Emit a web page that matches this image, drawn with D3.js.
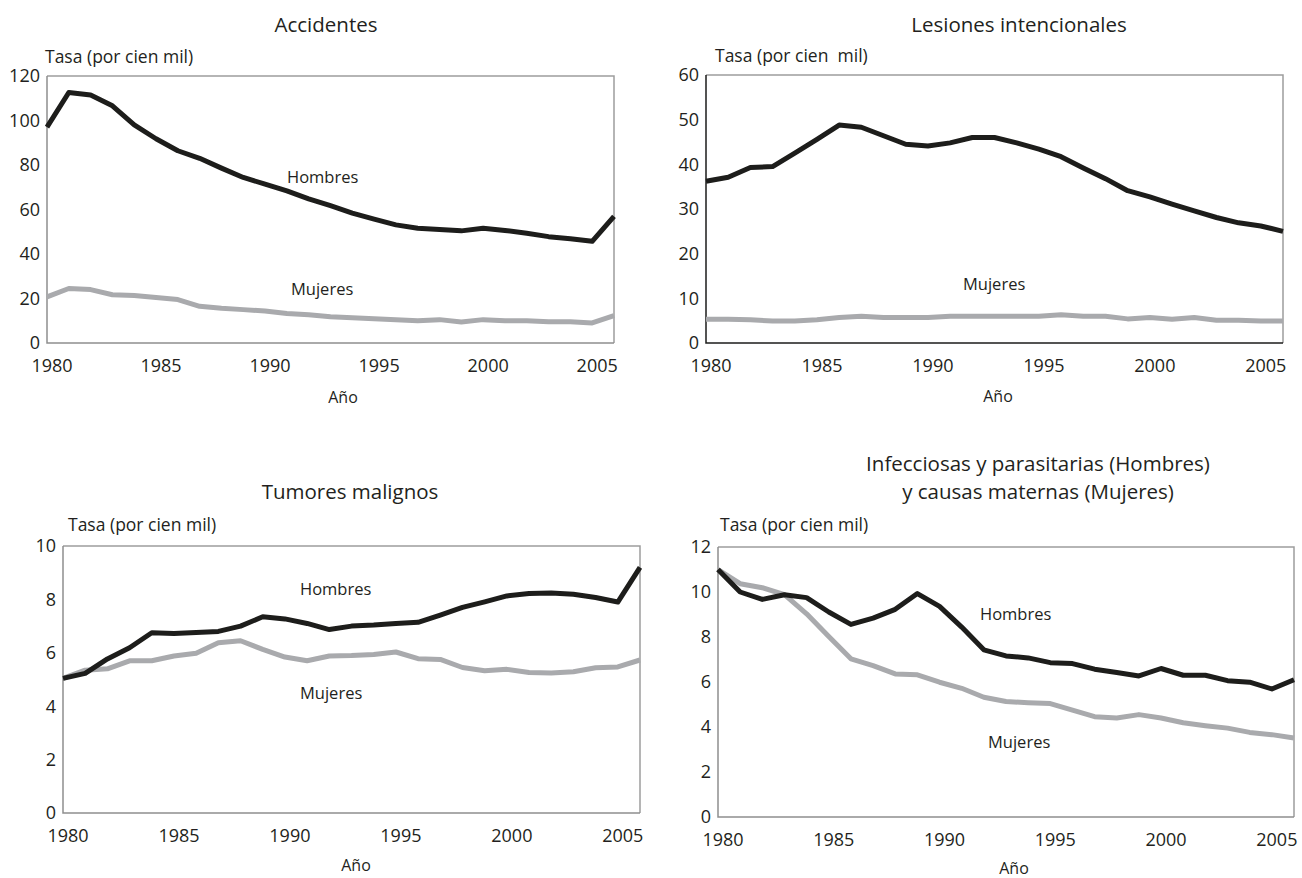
<!DOCTYPE html>
<html>
<head>
<meta charset="utf-8">
<script src="https://cdn.jsdelivr.net/npm/d3@7"></script>
<style>
  body { margin: 0; background: #fff; }
  text { font-family: "Open Sans", "Noto Sans", sans-serif; fill: #231f20; }
</style>
</head>
<body>
<script>
// years 1980..2006
var years = d3.range(1980, 2007);
var xTicks = [1980, 1985, 1990, 1995, 2000, 2005];

// Accidentes
var accH = [97, 112.6, 111.5, 106.6, 98, 91.8, 86.4, 83, 78.6, 74.4, 71.4, 68.4, 64.8, 61.7, 58.4, 55.7,
            53.1, 51.6, 51, 50.4, 51.6, 50.6, 49.3, 47.8, 46.9, 45.7, 56.9];
var accM = [20.7, 24.5, 24, 21.7, 21.3, 20.4, 19.5, 16.5, 15.6, 15, 14.4, 13.3, 12.7, 11.8, 11.4, 10.9,
            10.5, 10, 10.5, 9.4, 10.5, 10, 10, 9.6, 9.6, 9, 12.3];

// Lesiones intencionales
var lesH = [36.2, 37.1, 39.3, 39.5, 42.5, 45.6, 48.8, 48.3, 46.4, 44.5, 44.1, 44.8, 46, 46, 44.8, 43.4,
            41.7, 39.2, 36.8, 34.1, 32.7, 31.1, 29.6, 28.1, 26.9, 26.2, 25];
var lesM = [5.3, 5.3, 5.2, 4.9, 4.9, 5.2, 5.7, 6.0, 5.7, 5.7, 5.7, 6.0, 6.0, 6.0, 6.0, 6.0,
            6.3, 6.0, 6.0, 5.4, 5.7, 5.3, 5.7, 5.1, 5.1, 4.9, 4.9];

// Tumores malignos
var tumH = [5.04, 5.23, 5.77, 6.19, 6.75, 6.72, 6.76, 6.8, 7.0, 7.35, 7.27, 7.1, 6.87, 7.0, 7.04, 7.1,
            7.14, 7.41, 7.7, 7.91, 8.13, 8.22, 8.24, 8.19, 8.07, 7.9, 9.2];
var tumM = [5.04, 5.35, 5.4, 5.7, 5.7, 5.88, 5.98, 6.38, 6.45, 6.13, 5.84, 5.7, 5.88, 5.9, 5.94, 6.03,
            5.78, 5.75, 5.45, 5.33, 5.38, 5.26, 5.24, 5.29, 5.44, 5.47, 5.73];

// Infecciosas (Hombres) y causas maternas (Mujeres)
var infH = [11.0, 10.0, 9.67, 9.88, 9.75, 9.11, 8.56, 8.84, 9.23, 9.93, 9.36, 8.44, 7.43, 7.16, 7.07, 6.86,
            6.82, 6.57, 6.42, 6.27, 6.6, 6.3, 6.3, 6.06, 5.99, 5.69, 6.1];
var infM = [11.0, 10.37, 10.19, 9.88, 9.03, 8.02, 7.03, 6.73, 6.36, 6.32, 5.99, 5.72, 5.32, 5.13, 5.08, 5.04,
            4.75, 4.46, 4.4, 4.55, 4.4, 4.19, 4.06, 3.95, 3.76, 3.66, 3.51];

var w = 1302, h = 878;
var svg = d3.select("body").append("svg").attr("width", w).attr("height", h);

var black = "#1d1d1b", gray = "#a9aaad";

function panel(cfg) {
    var x = d3.scaleLinear().domain([1980, 2006]).range([cfg.left, cfg.right]);
    var y = d3.scaleLinear().domain([0, cfg.yMax]).range([cfg.bottom, cfg.top]);
    var g = svg.append("g");

    // frame: top/right light gray, left/bottom axis
    g.append("path")
        .attr("d", "M" + cfg.left + "," + cfg.top + "H" + cfg.right + "V" + cfg.bottom)
        .attr("fill", "none").attr("stroke", "#9d9d9d").attr("stroke-width", 1.5);
    g.append("path")
        .attr("d", "M" + cfg.left + "," + cfg.top + "V" + cfg.bottom + "H" + cfg.right)
        .attr("fill", "none").attr("stroke", cfg.axisColor).attr("stroke-width", 1.5);

    // y tick labels
    g.selectAll(".yt").data(d3.range(0, cfg.yMax + 0.001, cfg.yStep)).enter()
        .append("text")
        .attr("x", cfg.left - 7)
        .attr("y", d => y(d))
        .attr("dy", "0.36em")
        .attr("text-anchor", "end")
        .attr("font-size", 18)
        .text(d => d);

    // x tick labels
    g.selectAll(".xt").data(xTicks).enter()
        .append("text")
        .attr("x", d => x(d) + 5)
        .attr("y", cfg.bottom + 29)
        .attr("text-anchor", "middle")
        .attr("font-size", 18)
        .text(d => d);

    var line = d3.line().x((d, i) => x(years[i])).y(d => y(d));

    g.append("path").datum(cfg.m)
        .attr("fill", "none").attr("stroke", gray).attr("stroke-width", 5)
        .attr("stroke-linejoin", "round")
        .attr("d", line);
    g.append("path").datum(cfg.h)
        .attr("fill", "none").attr("stroke", black).attr("stroke-width", 5)
        .attr("stroke-linejoin", "round")
        .attr("d", line);

    // titles
    cfg.title.forEach(function(t, i) {
        g.append("text")
            .attr("x", cfg.titleX)
            .attr("y", cfg.titleY + i * 28)
            .attr("text-anchor", "middle")
            .attr("font-size", 20.5)
            .text(t);
    });

    g.append("text")
        .attr("x", cfg.tasaX).attr("y", cfg.tasaY)
        .attr("font-size", 17.5)
        .style("white-space", "pre")
        .text(cfg.tasa);

    g.append("text")
        .attr("x", cfg.anoX).attr("y", cfg.anoY)
        .attr("text-anchor", "middle")
        .attr("font-size", 16)
        .text("Año");

    cfg.labels.forEach(function(l) {
        g.append("text")
            .attr("x", l[1]).attr("y", l[2])
            .attr("font-size", 16.5)
            .text(l[0]);
    });
}

panel({
    left: 47, right: 614, top: 76, bottom: 343, yMax: 120, yStep: 20, axisColor: "#8e8e8e",
    h: accH, m: accM,
    title: ["Accidentes"], titleX: 326, titleY: 32,
    tasa: "Tasa (por cien mil)", tasaX: 45, tasaY: 63,
    anoX: 343, anoY: 403,
    labels: [["Hombres", 287, 183], ["Mujeres", 291, 295]]
});

panel({
    left: 706, right: 1283, top: 75, bottom: 343, yMax: 60, yStep: 10, axisColor: "#1d1d1b",
    h: lesH, m: lesM,
    title: ["Lesiones intencionales"], titleX: 1019, titleY: 32,
    tasa: "Tasa (por cien  mil)", tasaX: 715, tasaY: 62,
    anoX: 998, anoY: 402,
    labels: [["Mujeres", 963, 290]]
});

panel({
    left: 63, right: 640, top: 546, bottom: 813, yMax: 10, yStep: 2, axisColor: "#8e8e8e",
    h: tumH, m: tumM,
    title: ["Tumores malignos"], titleX: 350, titleY: 499,
    tasa: "Tasa (por cien mil)", tasaX: 68, tasaY: 531,
    anoX: 356, anoY: 871,
    labels: [["Hombres", 300, 595], ["Mujeres", 300, 699]]
});

panel({
    left: 718, right: 1294, top: 547, bottom: 817, yMax: 12, yStep: 2, axisColor: "#8e8e8e",
    h: infH, m: infM,
    title: ["Infecciosas y parasitarias (Hombres)", "y causas maternas (Mujeres)"], titleX: 1038, titleY: 471,
    tasa: "Tasa (por cien mil)", tasaX: 720, tasaY: 531,
    anoX: 1014, anoY: 874,
    labels: [["Hombres", 980, 620], ["Mujeres", 988, 748]]
});
</script>
</body>
</html>
